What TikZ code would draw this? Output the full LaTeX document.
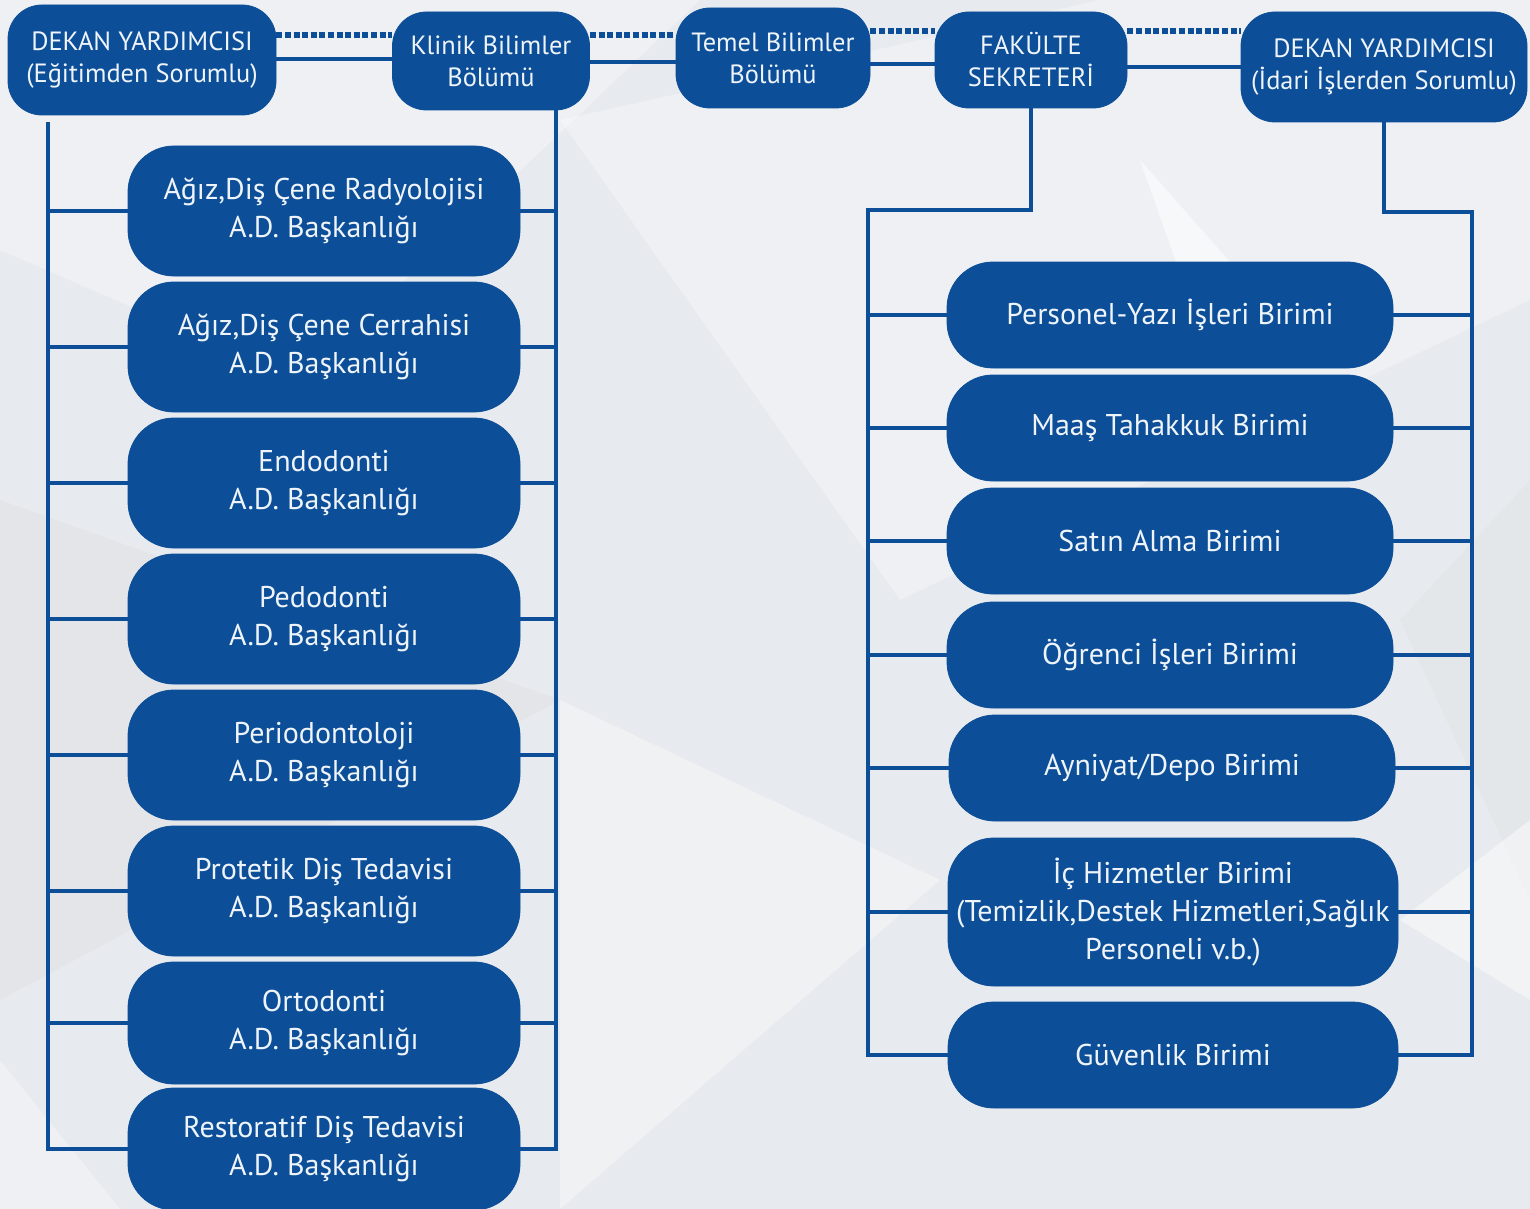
\documentclass[tikz,border=0pt]{standalone}
\usepackage{fontspec}
\setmainfont{PT Sans}
\definecolor{nblue}{HTML}{0C4E97}
\definecolor{ntext}{HTML}{EEF4FA}
\definecolor{bg}{HTML}{E7EAEE}
\begin{document}
\begin{tikzpicture}[x=0.5pt,y=-0.5pt,
  box/.style={draw=nblue,fill=nblue,text=ntext,rounded corners=23pt,align=center,font=\fontsize{15}{19}\selectfont,inner sep=0pt},
  topbox/.style={box,rounded corners=17pt,font=\fontsize{13.2}{16}\selectfont},
  leftbox/.style={box,minimum width=196pt,minimum height=65pt},
  rightbox/.style={box,minimum width=223pt,minimum height=53pt},
  link/.style={draw=nblue,line width=2pt},
  dotlink/.style={draw=nblue,line width=2.6pt,dash pattern=on 3pt off 1.3pt}]
\useasboundingbox (0,0) rectangle (1530,1209);
% background
\fill[bg] (0,0) rectangle (1530,1209);
\fill[white,opacity=0.3] (0,0) -- (700,0) -- (300,380) -- (0,250) -- cycle;
\fill[white,opacity=0.3] (560,120) -- (1100,0) -- (1530,0) -- (1530,300) -- (900,600) -- cycle;
\fill[white,opacity=0.55] (1140,160) -- (1290,330) -- (1200,330) -- cycle;
\fill[gray!30,opacity=0.25] (0,500) -- (560,700) -- (0,1000) -- cycle;
\fill[white,opacity=0.35] (560,700) -- (940,880) -- (560,1209) -- cycle;
\fill[gray!25,opacity=0.25] (1400,620) -- (1530,480) -- (1530,900) -- cycle;
\fill[white,opacity=0.45] (1400,920) -- (1530,820) -- (1530,1000) -- cycle;
\fill[white,opacity=0.3] (0,1060) -- (120,1209) -- (0,1209) -- cycle;

% top row
\node[topbox,minimum width=134pt,minimum height=55pt] (dl) at (142,60) {DEKAN YARDIMCISI\\(Eğitimden Sorumlu)};
\node[topbox,minimum width=98.5pt,minimum height=49pt] (kl) at (491,61) {Klinik Bilimler\\Bölümü};
\node[topbox,minimum width=97pt,minimum height=50pt] (tm) at (773,58) {Temel Bilimler\\Bölümü};
\node[topbox,minimum width=96pt,minimum height=48pt] (fs) at (1031,60) {FAKÜLTE\\SEKRETERİ};
\node[topbox,minimum width=143pt,minimum height=55pt] (dr) at (1384,67) {DEKAN YARDIMCISI\\(İdari İşlerden Sorumlu)};

% top connectors
\draw[link] (dl.east |- 0,59) -- (kl.west |- 0,59);
\draw[dotlink] (dl.east |- 0,35) -- (kl.west |- 0,35);
\draw[link] (kl.east |- 0,62) -- (tm.west |- 0,62);
\draw[dotlink] (kl.east |- 0,35) -- (tm.west |- 0,35);
\draw[link] (tm.east |- 0,64) -- (fs.west |- 0,64);
\draw[dotlink] (tm.east |- 0,31) -- (fs.west |- 0,31);
\draw[link] (fs.east |- 0,67) -- (dr.west |- 0,67);
\draw[dotlink] (fs.east |- 0,31) -- (dr.west |- 0,31);

% left column nodes
\node[leftbox] (a1) at (324,211) {Ağız,Diş Çene Radyolojisi\\A.D. Başkanlığı};
\node[leftbox] (a2) at (324,347) {Ağız,Diş Çene Cerrahisi\\A.D. Başkanlığı};
\node[leftbox] (a3) at (324,483) {Endodonti\\A.D. Başkanlığı};
\node[leftbox] (a4) at (324,619) {Pedodonti\\A.D. Başkanlığı};
\node[leftbox] (a5) at (324,755) {Periodontoloji\\A.D. Başkanlığı};
\node[leftbox] (a6) at (324,891) {Protetik Diş Tedavisi\\A.D. Başkanlığı};
\node[leftbox,minimum height=61pt] (a7) at (324,1023) {Ortodonti\\A.D. Başkanlığı};
\node[leftbox,minimum height=61pt] (a8) at (324,1149) {Restoratif Diş Tedavisi\\A.D. Başkanlığı};

\coordinate (lt) at (48,122);
\coordinate (rt) at (556,110);
\draw[link] (lt) -- (lt |- a8.west) -- (a8.west);
\draw[link] (rt) -- (rt |- a8.east) -- (a8.east);
\foreach \n in {a1,a2,a3,a4,a5,a6,a7}{
  \draw[link] (lt |- \n.west) -- (\n.west);
  \draw[link] (\n.east) -- (rt |- \n.east);
}

% right column nodes
\node[rightbox] (b1) at (1170,315) {Personel-Yazı İşleri Birimi};
\node[rightbox] (b2) at (1170,428) {Maaş Tahakkuk Birimi};
\node[rightbox] (b3) at (1170,541) {Satın Alma Birimi};
\node[rightbox] (b4) at (1170,655) {Öğrenci İşleri Birimi};
\node[rightbox] (b5) at (1172,768) {Ayniyat/Depo Birimi};
\node[rightbox,minimum width=225pt,minimum height=74pt] (b6) at (1173,912) {İç Hizmetler Birimi\\(Temizlik,Destek Hizmetleri,Sağlık\\Personeli v.b.)};
\node[rightbox,minimum width=225pt] (b7) at (1173,1055) {Güvenlik Birimi};

\coordinate (fl) at (868,210);
\coordinate (fr) at (1472,212);
\draw[link] (fs.south) -- (fs.south |- fl) -- (fl) -- (fl |- b7.west) -- (b7.west);
\draw[link] (dr.south) -- (dr.south |- fr) -- (fr) -- (fr |- b7.east) -- (b7.east);
\foreach \n in {b1,b2,b3,b4,b5,b6}{
  \draw[link] (fl |- \n.west) -- (\n.west);
  \draw[link] (\n.east) -- (fr |- \n.east);
}
\end{tikzpicture}
\end{document}
